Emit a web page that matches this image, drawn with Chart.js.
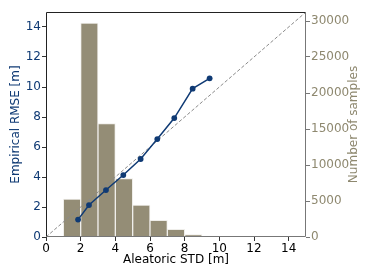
<!DOCTYPE html>
<html>
<head>
<meta charset="utf-8">
<script src="https://cdn.jsdelivr.net/npm/chart.js@4/dist/chart.umd.min.js"></script>
<style>
  html, body { margin: 0; padding: 0; background: #fff; }
  #wrap { width: 374px; height: 280px; }
</style>
</head>
<body>
<div id="wrap"><canvas id="chart" width="374" height="280"></canvas></div>
<script>
// histogram: bin centres (aleatoric std, m) and sample counts
var binCenters = [1.5, 2.5, 3.5, 4.5, 5.5, 6.5, 7.5, 8.5, 9.5];
var binCounts = [5250, 29700, 15770, 8120, 4450, 2320, 1070, 330, 140];

// calibration curve: mean predicted std vs empirical rmse
var stdValues = [1.85, 2.48, 3.46, 4.46, 5.46, 6.42, 7.4, 8.46, 9.44];
var rmseValues = [1.16, 2.13, 3.13, 4.13, 5.2, 6.53, 7.93, 9.89, 10.58];

// ideal line
var idealX = [0, 15];
var idealY = [0, 15];

// tick labels
var xTicks = [0, 2, 4, 6, 8, 10, 12, 14];
var yTicks = [0, 2, 4, 6, 8, 10, 12, 14];
var countTicks = [0, 5000, 10000, 15000, 20000, 25000, 30000];

var blue = '#0f3a74';
var tan = '#8e886f';
var font = { family: 'DejaVu Sans', size: 12 };

function pts(xs, ys) {
  return xs.map(function(x, i) { return { x: x, y: ys[i] }; });
}

function fixedTicks(list) {
  return function(axis) {
    axis.ticks = list.map(function(v) { return { value: v }; });
  };
}

var framePlugin = {
  id: 'frame',
  afterDraw: function(chart) {
    var a = chart.chartArea, c = chart.ctx;
    c.save();
    c.lineWidth = 1;
    c.strokeStyle = '#222';
    c.beginPath();
    c.moveTo(a.left + 0.5, a.bottom);
    c.lineTo(a.left + 0.5, a.top + 0.5);
    c.lineTo(a.right, a.top + 0.5);
    c.stroke();
    c.strokeStyle = '#777';
    c.beginPath();
    c.moveTo(a.right - 0.5, a.top);
    c.lineTo(a.right - 0.5, a.bottom - 0.5);
    c.lineTo(a.left, a.bottom - 0.5);
    c.stroke();

    // y axis titles, both read bottom to top
    var midY = (a.top + a.bottom) / 2;
    c.font = '12px "DejaVu Sans"';
    c.textAlign = 'center';
    c.textBaseline = 'middle';
    c.fillStyle = blue;
    c.translate(15.5, midY);
    c.rotate(-Math.PI / 2);
    c.fillText('Empirical RMSE [m]', 0, 0);
    c.setTransform(1, 0, 0, 1, 0, 0);
    c.fillStyle = tan;
    c.translate(354, midY);
    c.rotate(-Math.PI / 2);
    c.fillText('Number of samples', 0, 0);
    c.restore();
  }
};

new Chart(document.getElementById('chart'), {
  type: 'scatter',
  data: {
    datasets: [
      {
        type: 'bar',
        data: pts(binCenters, binCounts),
        yAxisID: 'y2',
        backgroundColor: '#948d76',
        borderColor: '#efeeea',
        borderWidth: 1,
        barPercentage: 1,
        categoryPercentage: 1,
        order: 3
      },
      {
        type: 'line',
        data: pts(idealX, idealY),
        yAxisID: 'y',
        borderColor: '#8a8a8a',
        borderWidth: 1,
        borderDash: [3.5, 2],
        pointRadius: 0,
        fill: false,
        order: 2
      },
      {
        type: 'line',
        data: pts(stdValues, rmseValues),
        yAxisID: 'y',
        borderColor: blue,
        backgroundColor: blue,
        borderWidth: 1.5,
        pointRadius: 2.9,
        pointBorderWidth: 0,
        fill: false,
        tension: 0,
        order: 1
      }
    ]
  },
  options: {
    responsive: false,
    animation: false,
    layout: { padding: { top: 12, left: 0, right: 0, bottom: 0 } },
    plugins: { legend: { display: false }, tooltip: { enabled: false } },
    scales: {
      x: {
        type: 'linear',
        min: 0, max: 15,
        offset: false,
        afterBuildTicks: fixedTicks(xTicks),
        afterFit: function(s) { s.height = 43; },
        ticks: { color: '#000', font: font, padding: 1, maxRotation: 0, autoSkip: false },
        grid: { drawOnChartArea: false, offset: false, tickLength: 4, color: '#333' },
        border: { display: false },
        title: { display: true, text: 'Aleatoric STD [m]', color: '#000', font: font, padding: { top: 0, bottom: 13 } }
      },
      y: {
        position: 'left',
        min: 0, max: 15,
        afterBuildTicks: fixedTicks(yTicks),
        afterFit: function(s) { s.width = 46; },
        ticks: { color: blue, font: font, padding: 1, autoSkip: false },
        grid: { drawOnChartArea: false, offset: false, tickLength: 4, color: '#333' },
        border: { display: false }
      },
      y2: {
        position: 'right',
        min: 0, max: 31250,
        afterBuildTicks: fixedTicks(countTicks),
        afterFit: function(s) { s.width = 68; },
        ticks: { color: tan, font: font, padding: 1, autoSkip: false, callback: function(v) { return String(v); } },
        grid: { drawOnChartArea: false, offset: false, tickLength: 4, color: '#777' },
        border: { display: false }
      }
    }
  },
  plugins: [framePlugin]
});
</script>
</body>
</html>
